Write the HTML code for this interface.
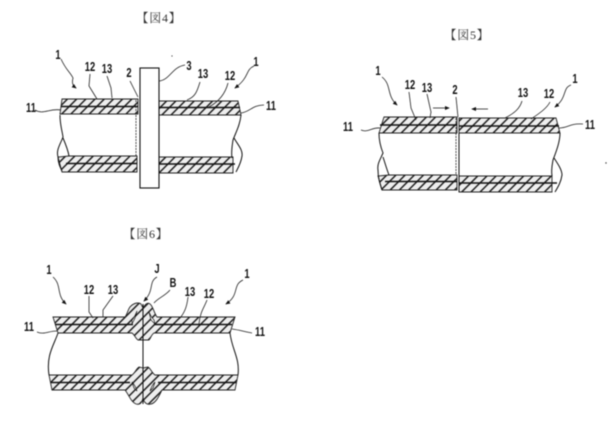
<!DOCTYPE html>
<html><head><meta charset="utf-8"><style>
html,body{margin:0;padding:0;background:#fff}
svg{display:block;filter:blur(.4px)}
text{font-family:"Liberation Sans",sans-serif;fill:#111;font-weight:bold;font-size:13px;text-anchor:middle;transform-box:fill-box;transform-origin:center;transform:scaleX(.72)}
text.t{font-family:"Liberation Serif","Noto Serif CJK SC",serif;font-weight:normal;font-size:12px;fill:#333;transform:none;letter-spacing:.8px}
.o{fill:none;stroke:#111;stroke-width:1}
.l{fill:none;stroke:#222;stroke-width:.8}
.b{fill:url(#h);stroke:#222;stroke-width:.9}
.m{fill:none;stroke:#111;stroke-width:1.5}
</style></head><body>
<svg width="616" height="423" viewBox="0 0 616 423" xmlns="http://www.w3.org/2000/svg">
<defs>
<pattern id="h" width="6.5" height="6.5" patternUnits="userSpaceOnUse" patternTransform="rotate(45)">
<rect width="6.5" height="6.5" fill="#eee"/><rect width="1.5" height="6.5" fill="#222"/>
</pattern>
<marker id="a" markerWidth="6" markerHeight="6" refX="5" refY="3" orient="auto"><path d="M0,0.5L6,3L0,5.5z" fill="#111"/></marker>
</defs>
<rect width="616" height="423" fill="#fff"/>

<!-- Fig 4 -->
<text class="t" x="159" y="22">【図4】</text>
<path class="b" d="M62 99H138V114H60z"/>
<path class="b" d="M69 156H137V172H62L58 157z"/>
<path class="b" d="M159 101H238L241 115H159z"/>
<path class="b" d="M159 157H233V173H159z"/>
<path class="m" d="M61 106.500H138M159 107.500H240M66 163.500H137M159 164H235"/>
<path class="o" d="M60 115C60 125 62 130 63 137C60 145 56 150 58 157C58 163 60 167 62 171M63 138C66 145 68 150 69 156"/>
<path class="o" d="M241 115C240 125 236 132 233 140C232 147 231 152 232 158M234 138C238 145 243 150 242 156C241 163 238 168 236 172"/>
<path class="l" stroke-dasharray="2 1" d="M136 100V156"/>
<rect x="140" y="68" width="19" height="120" fill="#fff" stroke="#111" stroke-width="1.1"/>
<text x="58" y="59">1</text><text x="256" y="66">1</text>
<text x="90" y="71">12</text><text x="107" y="73">13</text><text x="129" y="77">2</text>
<text x="189" y="70">3</text><text x="203" y="78">13</text><text x="230" y="80">12</text>
<text x="31" y="112">11</text><text x="271" y="110">11</text>
<path class="l" marker-end="url(#a)" d="M61 59C66 70 70 72 73 78C72 82 72 85 76 88"/>
<path class="l" marker-end="url(#a)" d="M254 66C245 70 250 77 235 88"/>
<path class="l" d="M90 74L89 86L97 99M107 76L111 88L112 98M130 81L138 97M159 81C170 80 172 67 185 65M187 100C195 97 197 92 200 82M209 107C218 102 225 95 228 83M35 110C43 115 50 108 61 110M241 113C250 112 252 105 264 105"/>

<!-- Fig 5 -->
<text class="t" x="467" y="39">【図5】</text>
<path class="b" d="M384 117H457V133H379z"/>
<path class="b" d="M389 175H457V190H382L378 176z"/>
<path class="b" d="M459 118H556L560 133H459z"/>
<path class="b" d="M459 176H552V192H459z"/>
<path class="m" d="M380 125H457M459 126H559M385 181.500H457M459 183H557"/>
<path class="o" d="M379 133C379 142 381 148 383 153C380 160 377 164 378 170C378 178 380 184 382 190M383 157C385 163 387 170 389 175"/>
<path class="o" d="M560 133C560 142 556 152 553 160C552 166 551 170 552 176M554 158C558 164 562 170 562 175C561 182 558 187 555 192"/>
<path class="l" stroke-dasharray="2 1" d="M456 118V175"/><path class="o" d="M459 133V192"/>
<text x="378" y="75">1</text><text x="575" y="83">1</text>
<text x="410" y="89">12</text><text x="427" y="92">13</text><text x="455" y="94">2</text>
<text x="523" y="97">13</text><text x="549" y="98">12</text>
<text x="348" y="131">11</text><text x="590" y="129">11</text>
<path class="l" marker-end="url(#a)" d="M382 77C392 85 386 95 397 105"/>
<path class="l" marker-end="url(#a)" d="M571 85C562 88 568 97 555 107"/>
<path class="l" d="M409 92L411 108L416 120M427 94L431 112L430 118M456 97L458 117M505 118C515 113 520 108 522 101M531 119C540 113 547 108 550 102M361 130C368 133 372 127 380 128M559 128C568 128 570 123 583 124"/>
<path class="l" marker-end="url(#a)" d="M433 108H449"/><path class="l" marker-end="url(#a)" d="M488 109H472"/>

<!-- Fig 6 -->
<text class="t" x="146" y="238">【図6】</text>
<path class="b" d="M53 317H125C128 313 128 308 131 306C134 303 139 302 141 304L143 308V340H138C135 338 135 335 132 333H58z"/>
<path class="b" d="M235 317H157C154 313 153 306 150 304C148 302 145 304 143 308V340H149C151 338 151 335 154 333H230z"/>
<path class="b" d="M49 375H132C135 373 136 369 139 367L143 368V398C142 403 140 405 136 404C131 402 129 395 125 390H52z"/>
<path class="b" d="M238 375H155C152 373 151 369 148 367L143 368V398C144 403 147 405 151 404C156 403 159 396 162 390H235z"/>
<path class="m" d="M55 324.500H133M154 324.500H232M51 382.500H130M158 382.500H236"/>
<path d="M132 320C135 317 136 313 137 311L135 318L132 324zM154 320C151 317 150 314 149 312L151 320L155 324zM132 382C135 385 136 388 137 391L134 388zM155 382C152 385 151 388 150 391L153 388z" fill="#fff" stroke="#111" stroke-width=".7"/>
<path class="o" d="M143 304V404"/>
<path class="o" d="M58 333C54 345 46 355 49 375M230 333C232 350 240 358 238 375"/>
<text x="49" y="274">1</text><text x="247" y="278">1</text>
<text x="89" y="294">12</text><text x="113" y="294">13</text><text x="157" y="273">J</text>
<text x="173" y="287">B</text><text x="190" y="296">13</text><text x="209" y="298">12</text>
<text x="29" y="331">11</text><text x="260" y="336">11</text>
<path class="l" marker-end="url(#a)" d="M53 277C62 285 56 295 66 304"/>
<path class="l" marker-end="url(#a)" d="M243 280C232 285 240 295 226 304"/>
<path class="l" marker-end="url(#a)" d="M157 277C148 282 155 290 144 301"/>
<path class="l" d="M89 296V312L93 318M113 296L103 310V317M170 290C165 296 158 298 154 303M188 297C187 306 185 312 180 318M207 300C204 308 200 312 199 324M37 332C44 335 48 331 57 331M232 329C240 330 245 332 252 333"/>
<circle cx="172" cy="56" r=".6" fill="#333"/><circle cx="606" cy="163" r=".7" fill="#333"/>
</svg>
</body></html>
